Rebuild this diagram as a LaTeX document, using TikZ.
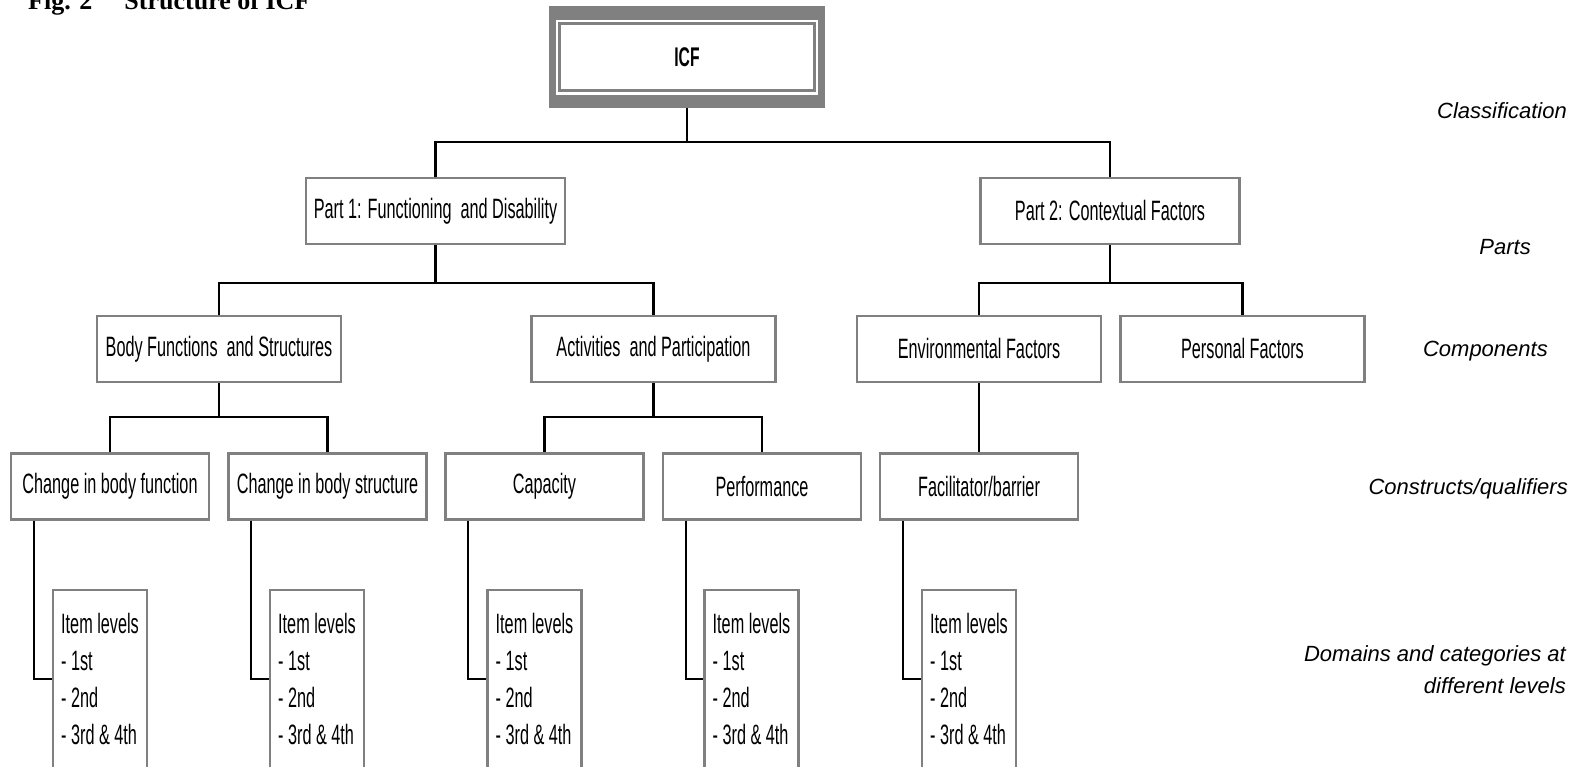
\documentclass[tikz,border=0pt]{standalone}
\usepackage{fontspec}
\setmainfont{Liberation Sans}
\newfontfamily\narrowfont{Liberation Sans}[FakeStretch=0.58]
\newfontfamily\capfont{Liberation Serif}
\usetikzlibrary{positioning,calc}
\definecolor{framegray}{RGB}{128,128,128}

\begin{document}
\begin{tikzpicture}[x=1pt,y=1pt,
  box/.style={draw=framegray,line width=2.5pt,fill=white,inner sep=0pt,minimum width=#1,minimum height=66pt,font=\narrowfont\fontsize{28}{34}\selectfont},
  itembox/.style={draw=framegray,line width=2.5pt,fill=white,inner sep=0pt,minimum width=94pt,minimum height=178pt,align=left,font=\narrowfont\fontsize{28}{37}\selectfont},
  conn/.style={draw=black,line width=2.4pt},
  lvl/.style={anchor=east,inner sep=0pt,font=\itshape\fontsize{22}{32}\selectfont}]
\useasboundingbox (0,0) rectangle (1575,767);

% caption, cut by the top edge
\node[anchor=base west,inner sep=0pt,font=\capfont\bfseries\fontsize{26}{30}\selectfont] (figtitle) at (28,757) {Fig. 2\hspace{32pt}Structure of ICF};

% classification
\node[fill=framegray,minimum width=276pt,minimum height=102pt,inner sep=0pt,outer sep=0pt,
  font=\narrowfont\bfseries\fontsize{27}{30}\selectfont,
  path picture={
    \fill[white] ($(path picture bounding box.north west)+(7,-14)$) rectangle ($(path picture bounding box.south east)+(-7,13)$);
    \draw[framegray,line width=2.5pt] ($(path picture bounding box.north west)+(10.5,-17.5)$) rectangle ($(path picture bounding box.south east)+(-10.5,17.5)$);
  }] (icf) at (687,710) {ICF};

% parts
\node[box=259pt] (part1) at (435.5,556) {Part 1: Functioning \ and Disability};
\node[box=259pt] (part2) at (1110,556) {Part 2: Contextual Factors};

% components
\node[box=244pt] (bodyfs) at (219,418) {Body Functions \ and Structures};
\node[box=244pt] (actpart) at (653.5,418) {Activities \ and Participation};
\node[box=244pt] (envfac) at (979,418) {Environmental Factors};
\node[box=244pt] (persfac) at (1242.5,418) {Personal Factors};

% constructs
\node[box=198pt] (bodyfun) at (110,280.5) {Change in body function};
\node[box=198pt] (bodystr) at (327.5,280.5) {Change in body structure};
\node[box=198pt] (capac) at (544.5,280.5) {Capacity};
\node[box=198pt] (perf) at (762,280.5) {Performance};
\node[box=198pt] (facbar) at (979,280.5) {Facilitator/barrier};

% item levels
\node[itembox] (bfitems) at (100,88) {Item levels\\- 1st\\- 2nd\\- 3rd \& 4th};
\node[itembox] (bsitems) at (317,88) {Item levels\\- 1st\\- 2nd\\- 3rd \& 4th};
\node[itembox] (capitems) at (534.5,88) {Item levels\\- 1st\\- 2nd\\- 3rd \& 4th};
\node[itembox] (perfitems) at (751.5,88) {Item levels\\- 1st\\- 2nd\\- 3rd \& 4th};
\node[itembox] (facitems) at (969,88) {Item levels\\- 1st\\- 2nd\\- 3rd \& 4th};

% connectors
\draw[conn] (icf.south) -- ++(0,-34) -| (part1.north);
\draw[conn] (icf.south) -- ++(0,-34) -| (part2.north);
\draw[conn] (part1.south) -- ++(0,-38) -| (bodyfs.north);
\draw[conn] (part1.south) -- ++(0,-38) -| (actpart.north);
\draw[conn] (part2.south) -- ++(0,-38) -| (envfac.north);
\draw[conn] (part2.south) -- ++(0,-38) -| (persfac.north);
\draw[conn] (bodyfs.south) -- ++(0,-34) -| (bodyfun.north);
\draw[conn] (bodyfs.south) -- ++(0,-34) -| (bodystr.north);
\draw[conn] (actpart.south) -- ++(0,-34) -| (capac.north);
\draw[conn] (actpart.south) -- ++(0,-34) -| (perf.north);
\draw[conn] (envfac.south) -- (facbar.north);
\draw[conn] ([xshift=24pt]bodyfun.south west) |- (bfitems.west);
\draw[conn] ([xshift=24pt]bodystr.south west) |- (bsitems.west);
\draw[conn] ([xshift=24pt]capac.south west) |- (capitems.west);
\draw[conn] ([xshift=24pt]perf.south west) |- (perfitems.west);
\draw[conn] ([xshift=24pt]facbar.south west) |- (facitems.west);

% level names
\node[lvl] (lclass) at (1567,656.5) {Classification};
\node[lvl] (lparts) at (1531,520) {Parts};
\node[lvl] (lcomp) at (1548,415.5) {Components};
\node[lvl] (lconstr) at (1568,278) {Constructs/qualifiers};
\node[lvl,align=right] (ldomain) at (1566,97) {Domains and categories at\\different levels};
\end{tikzpicture}
\end{document}
